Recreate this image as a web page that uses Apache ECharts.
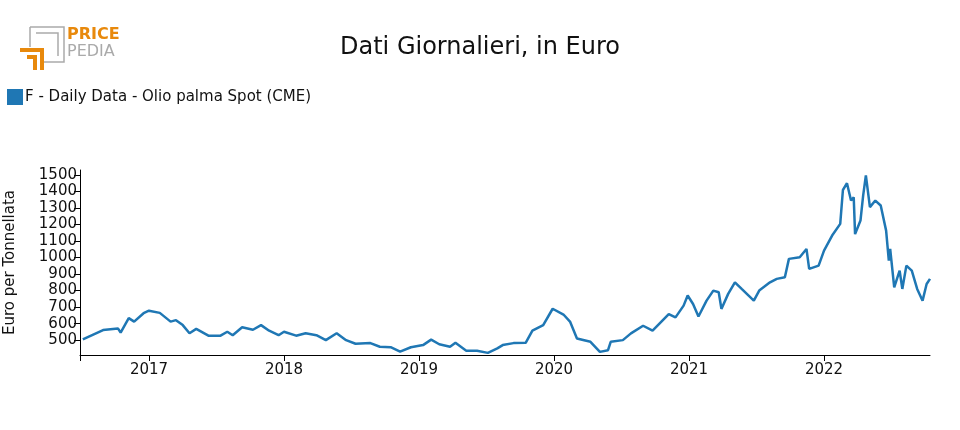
<!DOCTYPE html>
<html><head><meta charset="utf-8">
<script src="https://cdn.jsdelivr.net/npm/echarts@6/dist/echarts.min.js"></script>
<style>html,body{margin:0;padding:0;background:#fff}#c{width:960px;height:430px}</style>
</head><body><div id="c"></div>
<script>
const years = [2016.51,2016.66,2016.77,2016.79,2016.85,2016.89,2016.96,2017.0,2017.08,2017.16,2017.2,2017.25,2017.3,2017.35,2017.44,2017.53,2017.58,2017.62,2017.69,2017.77,2017.83,2017.89,2017.96,2018.0,2018.09,2018.16,2018.24,2018.31,2018.39,2018.46,2018.53,2018.64,2018.71,2018.79,2018.86,2018.94,2019.03,2019.09,2019.15,2019.23,2019.27,2019.35,2019.43,2019.51,2019.58,2019.62,2019.7,2019.79,2019.84,2019.92,2019.99,2020.07,2020.12,2020.17,2020.27,2020.34,2020.4,2020.42,2020.51,2020.57,2020.66,2020.73,2020.85,2020.9,2020.96,2020.99,2021.03,2021.07,2021.13,2021.18,2021.22,2021.24,2021.29,2021.34,2021.39,2021.48,2021.52,2021.6,2021.65,2021.71,2021.74,2021.82,2021.87,2021.89,2021.96,2022.0,2022.06,2022.12,2022.14,2022.17,2022.2,2022.22,2022.23,2022.27,2022.29,2022.31,2022.34,2022.38,2022.42,2022.46,2022.48,2022.49,2022.52,2022.56,2022.58,2022.61,2022.65,2022.69,2022.73,2022.76,2022.785];
const values = [504,561,571,545,633,612,663,678,665,612,621,591,542,568,527,527,551,530,578,563,591,557,530,551,527,542,530,500,542,500,478,482,460,457,430,457,470,503,475,460,484,436,436,423,450,470,482,484,557,591,690,655,610,510,490,429,439,490,500,541,587,557,658,638,709,770,719,643,739,800,790,689,780,850,810,739,800,850,871,881,992,1002,1052,931,951,1042,1133,1204,1409,1450,1345,1365,1142,1224,1376,1497,1305,1345,1315,1163,981,1052,820,921,810,951,921,810,739,840,871];
const yTicks = [500,600,700,800,900,1000,1100,1200,1300,1400,1500];
const xTickYears = [2017,2018,2019,2020,2021,2022];
const seriesName = 'F - Daily Data - Olio palma Spot (CME)';

const data = years.map((d,i)=>[d,values[i]]);
const xMin = 2016.489, xMax = 2022.785;
const chart = echarts.init(document.getElementById('c'));
const font = 'DejaVu Sans';
chart.setOption({
  animation:false,
  textStyle:{fontFamily:font},
  title:{text:'Dati Giornalieri, in Euro',left:'center',top:31,textStyle:{fontFamily:font,fontSize:24,fontWeight:'normal',color:'#111'}},
  legend:{left:2,top:84,itemWidth:16,itemHeight:16,itemGap:4,icon:'rect',textStyle:{fontFamily:font,fontSize:15,color:'#111',padding:[0,0,0,-3]},data:[seriesName]},
  grid:{left:80,right:30,top:170,bottom:75,outerBoundsMode:'none',containLabel:false},
  xAxis:{type:'value',min:xMin,max:xMax,
    axisLine:{lineStyle:{color:'#000'}},
    axisTick:{customValues:[xMin].concat(xTickYears),length:6,lineStyle:{color:'#000'}},
    axisLabel:{customValues:xTickYears,formatter:v=>String(Math.round(v)),color:'#111',fontSize:15,fontFamily:font,margin:8},
    splitLine:{show:false}},
  yAxis:{type:'value',min:410,max:1530,name:'Euro per Tonnellata',nameLocation:'middle',nameGap:62,nameTextStyle:{fontSize:15,color:'#111',fontFamily:font},
    axisLine:{show:true,lineStyle:{color:'#000'}},
    axisTick:{show:true,customValues:yTicks,length:6,lineStyle:{color:'#000'}},
    axisLabel:{customValues:yTicks,formatter:v=>String(v),color:'#111',fontSize:15,fontFamily:font,margin:3},
    splitLine:{show:false}},
  series:[{name:seriesName,type:'line',data:data,showSymbol:false,lineStyle:{width:2.5,color:'#1f77b4'},itemStyle:{color:'#1f77b4'}}],
  graphic:[
    {type:'polyline',shape:{points:[[30,27],[64,27],[64,62],[42,62]]},style:{stroke:'#aaa',lineWidth:1.5,fill:null}},
    {type:'polyline',shape:{points:[[30,27],[30,47]]},style:{stroke:'#aaa',lineWidth:1.5}},
    {type:'polyline',shape:{points:[[36,33],[58,33],[58,56]]},style:{stroke:'#aaa',lineWidth:1.5,fill:null}},
    {type:'polyline',shape:{points:[[20,50],[42,50],[42,70]]},style:{stroke:'#e8890c',lineWidth:4,fill:null}},
    {type:'polyline',shape:{points:[[27,57],[35,57],[35,70]]},style:{stroke:'#e8890c',lineWidth:4,fill:null}},
    {type:'text',left:67,top:27,style:{text:'PRICE',fontSize:16,fontWeight:'bold',fill:'#e8890c',fontFamily:font}},
    {type:'text',left:67,top:44,style:{text:'PEDIA',fontSize:16,fill:'#aaa',fontFamily:font}}
  ]
});
</script></body></html>
